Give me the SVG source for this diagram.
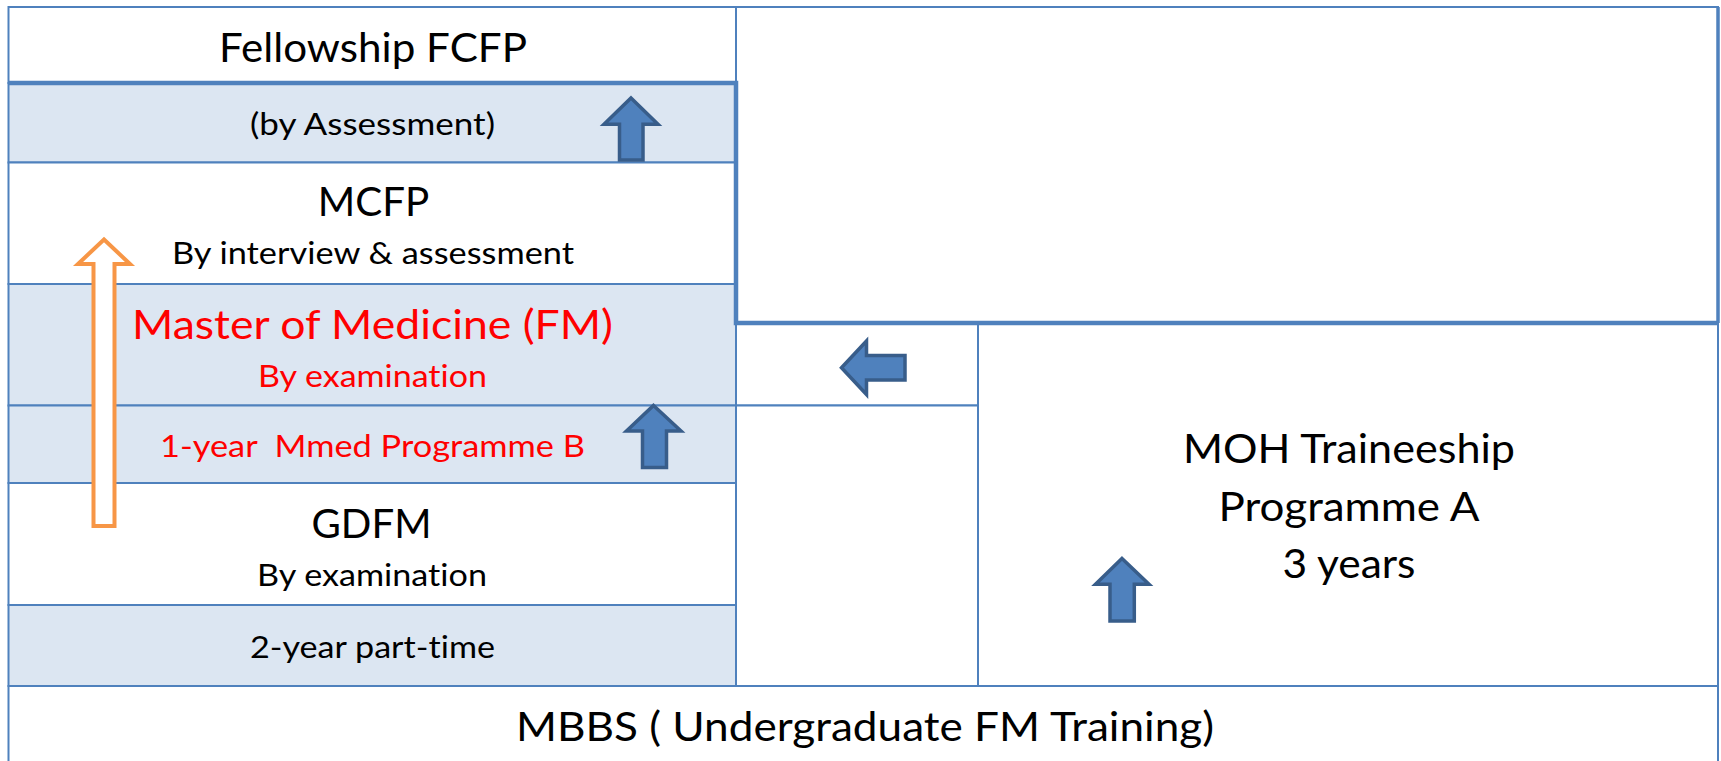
<svg xmlns="http://www.w3.org/2000/svg" width="1721" height="761" viewBox="0 0 1721 761">
<defs>
<style>
.cell{stroke:#4F81BD;stroke-width:2}
.w{fill:#FFFFFF}
.s{fill:#DCE6F2}
.thick{fill:none;stroke:#4F81BD;stroke-width:4.5}
.t{font-family:Lato,"Open Sans","Liberation Sans",sans-serif;fill:#000000;text-anchor:middle;font-variant-ligatures:none}
.L{font-size:41px}
.S{font-size:31px}
.red{fill:#FF0000}
.barrow{fill:#4F81BD;stroke:#385D8A;stroke-width:3.5;stroke-linejoin:miter}
.oarrow{fill:#FFFFFF;stroke:#F79646;stroke-width:4;stroke-linejoin:miter}
</style>
</defs>
<rect x="0" y="0" width="1721" height="761" fill="#FFFFFF"/>

<g id="top-right-box"><rect class="cell w" x="736" y="7" width="982" height="316"/></g>
<g id="fellowship"><rect class="cell w" x="8.5" y="7" width="727.5" height="76"/>
<text class="t L" x="373" y="62" textLength="308" lengthAdjust="spacingAndGlyphs">Fellowship FCFP</text></g>
<g id="by-assessment"><rect class="cell s" x="8.5" y="83" width="727.5" height="79.5"/>
<text class="t S" x="372.5" y="135" textLength="245" lengthAdjust="spacingAndGlyphs">(by Assessment)</text></g>
<g id="mcfp"><rect class="cell w" x="8.5" y="162.5" width="727.5" height="121.5"/>
<text class="t L" x="373.5" y="216" textLength="111.5" lengthAdjust="spacingAndGlyphs">MCFP</text>
<text class="t S" x="373" y="264" textLength="402" lengthAdjust="spacingAndGlyphs">By interview &amp; assessment</text></g>
<g id="mmed"><rect class="cell s" x="8.5" y="284" width="727.5" height="121.5"/>
<text class="t L red" x="372.5" y="339" textLength="481" lengthAdjust="spacingAndGlyphs">Master of Medicine (FM)</text>
<text class="t S red" x="372.5" y="387" textLength="229" lengthAdjust="spacingAndGlyphs">By examination</text></g>
<g id="programme-b"><rect class="cell s" x="8.5" y="405.5" width="727.5" height="77.5"/>
<text class="t S red" x="372.5" y="457" textLength="425" lengthAdjust="spacingAndGlyphs" xml:space="preserve">1-year  Mmed Programme B</text></g>
<g id="gdfm"><rect class="cell w" x="8.5" y="483" width="727.5" height="122"/>
<text class="t L" x="371.5" y="538" textLength="120" lengthAdjust="spacingAndGlyphs">GDFM</text>
<text class="t S" x="372" y="586" textLength="230" lengthAdjust="spacingAndGlyphs">By examination</text></g>
<g id="part-time"><rect class="cell s" x="8.5" y="605" width="727.5" height="81"/>
<text class="t S" x="372.5" y="658" textLength="245" lengthAdjust="spacingAndGlyphs">2-year part-time</text></g>
<g id="middle-upper"><rect class="cell w" x="736" y="323" width="242" height="82.5"/></g>
<g id="middle-lower"><rect class="cell w" x="736" y="405.5" width="242" height="280.5"/></g>
<g id="moh"><rect class="cell w" x="978" y="323" width="740" height="363"/>
<text class="t L" x="1349" y="463" textLength="332" lengthAdjust="spacingAndGlyphs">MOH Traineeship</text>
<text class="t L" x="1349" y="521" textLength="261" lengthAdjust="spacingAndGlyphs">Programme A</text>
<text class="t L" x="1349" y="578" textLength="133" lengthAdjust="spacingAndGlyphs">3 years</text></g>
<g id="mbbs"><rect class="cell w" x="8.5" y="686" width="1709.5" height="90"/>
<text class="t L" x="865" y="741" textLength="698" lengthAdjust="spacingAndGlyphs">MBBS ( Undergraduate FM Training)</text></g>

<path class="thick" d="M8.5,83 H736 V323 H1718"/>
<path fill="none" stroke="#4F81BD" stroke-width="3.5" d="M1718,7 V323"/>

<g id="connectors">
<path class="oarrow" d="M104,239.5 L130,264 H114.5 V526 H93.5 V264 H78 Z"/>
<path class="barrow" d="M631,98 L658,124.3 H643 V160 H619.5 V124.3 H604 Z"/>
<path class="barrow" d="M653.5,405.5 L681,431 H666.5 V467.5 H642.5 V431 H626.5 Z"/>
<path class="barrow" d="M841.5,367.7 L866.5,341 V355.5 H905 V380 H866.5 V394.5 Z"/>
<path class="barrow" d="M1122,558.5 L1149,584.3 H1134.3 V621 H1110 V584.3 H1095.5 Z"/>
</g>
</svg>
